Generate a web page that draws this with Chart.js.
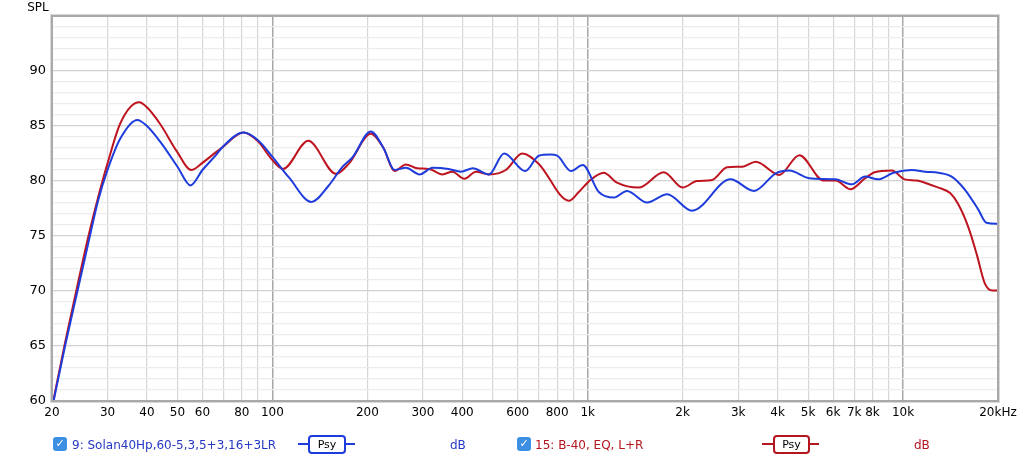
<!DOCTYPE html>
<html>
<head>
<meta charset="utf-8">
<script src="https://cdn.jsdelivr.net/npm/chart.js@4"></script>
<style>
  html, body { margin: 0; padding: 0; background: #fff; }
  #wrap { position: relative; width: 1024px; height: 461px; font-family: "DejaVu Sans", sans-serif; }
  #spl { position: absolute; left: 0; top: 0; }
  .leg { position: absolute; top: 436px; height: 18px; font-size: 12px; line-height: 18px; white-space: nowrap; }
  .chk { position: absolute; top: 437px; width: 14px; height: 14px; border-radius: 3px; background: #3d8fe6; color: #fff;
         font-size: 11px; line-height: 14px; text-align: center; font-weight: bold; }
  .psy { position: absolute; top: 435px; height: 15px; border: 2px solid; border-radius: 4px; background: #fff;
         font-size: 11px; line-height: 15px; text-align: center; color: #000; }
  .psyline { position: absolute; top: 443px; height: 2px; }
</style>
</head>
<body>
<div id="wrap">
  <canvas id="spl" width="1024" height="461"></canvas>

  <div class="chk" style="left:53px">&#10003;</div>
  <div class="leg" style="left:72px;color:#2639c4">9: Solan40Hp,60-5,3,5+3,16+3LR</div>
  <div class="psyline" style="left:298px;width:57px;background:#1e3cdc"></div>
  <div class="psy" style="left:308px;width:34px;border-color:#1e3cdc">Psy</div>
  <div class="leg" style="left:450px;color:#2639c4">dB</div>

  <div class="chk" style="left:517px">&#10003;</div>
  <div class="leg" style="left:535px;color:#b3161e">15: B-40, EQ, L+R</div>
  <div class="psyline" style="left:762px;width:57px;background:#b3161e"></div>
  <div class="psy" style="left:773px;width:33px;border-color:#b3161e">Psy</div>
  <div class="leg" style="left:914px;color:#b3161e">dB</div>
</div>
<script>
// Frequenzen (Hz) und Pegel (dB) - Messung 9 (blau)
const freqBlue = [20, 22, 24, 26, 28, 30, 33, 37.3, 40, 44, 50, 55, 60, 66.4, 69, 81, 90, 100, 113, 133, 150, 167, 180, 205, 225, 244,
  265, 293, 322, 362, 396, 432, 486, 543, 634, 700, 760, 800, 885, 964, 1084, 1210, 1332, 1542, 1786, 2142, 2836, 3368,
  3950, 4356, 5038, 6110, 6880, 7580, 8336, 9330, 10660, 11760, 12950, 14260, 15720, 17320, 18380, 20000];
const splBlue = [59.3, 65.0, 69.8, 74.2, 78.2, 81.0, 83.9, 85.55, 85.0, 83.6, 81.3, 79.6, 81.0, 82.4, 83.0, 84.4, 83.7, 82.2, 80.3, 78.1, 79.5, 81.3, 82.2, 84.5, 83.0, 81.0,
  81.2, 80.6, 81.2, 81.1, 80.85, 81.15, 80.6, 82.5, 80.9, 82.3, 82.4, 82.3, 80.9, 81.45, 79.0, 78.5, 79.1, 78.05, 78.8, 77.3, 80.15, 79.1,
  80.7, 80.95, 80.25, 80.15, 79.7, 80.4, 80.15, 80.75, 81.0, 80.85, 80.75, 80.4, 79.2, 77.4, 76.2, 76.1];

// Messung 15 (rot)
const freqRed = [20, 22, 24, 26, 28, 30, 33, 37.8, 40, 44, 50, 55.3, 60, 66.4, 69, 81, 90, 100, 108, 130, 159, 175, 205, 225, 244,
  265, 288, 314, 346, 372, 406, 442, 486, 550, 620, 697, 872, 937, 1021, 1124, 1238, 1450, 1742, 2000, 2220, 2480,
  2768, 3096, 3412, 4048, 4690, 5590, 6110, 6800, 7580, 8130, 9220, 10120, 11050, 12100, 12950, 14100, 14920, 16080,
  17100, 18160, 19200, 20000];
const splRed = [59.4, 65.3, 70.3, 74.8, 78.5, 81.6, 85.3, 87.15, 86.7, 85.2, 82.6, 81.0, 81.65, 82.65, 83.0, 84.4, 83.6, 81.9, 81.1, 83.65, 80.65, 81.6, 84.3, 83.0, 80.9,
  81.5, 81.15, 81.1, 80.6, 80.85, 80.2, 80.85, 80.6, 81.0, 82.5, 81.6, 78.2, 79.0, 80.1, 80.75, 79.85, 79.4, 80.8, 79.4, 80.0, 80.1,
  81.25, 81.3, 81.75, 80.55, 82.35, 80.05, 80.05, 79.25, 80.25, 80.8, 80.95, 80.15, 80.05, 79.7, 79.4, 78.9, 77.95, 75.85,
  73.4, 70.7, 70.05, 70.05];

// Rasterlinien und Beschriftungen der Frequenzachse
const gridFreqs = [20, 30, 40, 50, 60, 70, 80, 90, 100, 200, 300, 400, 500, 600, 700, 800, 900,
  1000, 2000, 3000, 4000, 5000, 6000, 7000, 8000, 9000, 10000, 20000];
const freqLabels = {
  20: "20", 30: "30", 40: "40", 50: "50", 60: "60", 80: "80", 100: "100", 200: "200", 300: "300", 400: "400",
  600: "600", 800: "800", 1000: "1k", 2000: "2k", 3000: "3k", 4000: "4k", 5000: "5k", 6000: "6k", 7000: "7k",
  8000: "8k", 10000: "10k", 20000: "20kHz"
};
const decades = [100, 1000, 10000];

const toPoints = (xs, ys) => xs.map((f, i) => ({ x: f, y: ys[i] }));

// Rahmen und Achsentitel
const framePlugin = {
  id: "frame",
  afterDraw(chart) {
    const { ctx, chartArea: a } = chart;
    ctx.save();
    ctx.strokeStyle = "#d8d8d8";
    ctx.lineWidth = 1;
    ctx.strokeRect(a.left - 1.5, a.top - 1.5, a.right - a.left + 3, a.bottom - a.top + 3);
    ctx.strokeStyle = "#a9a9a9";
    ctx.lineWidth = 2;
    ctx.strokeRect(a.left, a.top, a.right - a.left, a.bottom - a.top);
    ctx.fillStyle = "#000";
    ctx.font = "12px 'DejaVu Sans'";
    ctx.textAlign = "center";
    ctx.textBaseline = "middle";
    ctx.fillText("SPL", 38, 8);
    ctx.restore();
  }
};

new Chart(document.getElementById("spl").getContext("2d"), {
  type: "line",
  data: {
    datasets: [
      {
        label: "9: Solan40Hp,60-5,3,5+3,16+3LR",
        data: toPoints(freqBlue, splBlue),
        borderColor: "#1e3cdc",
        borderWidth: 2,
        pointRadius: 0,
        cubicInterpolationMode: "monotone",
      },
      {
        label: "15: B-40, EQ, L+R",
        data: toPoints(freqRed, splRed),
        borderColor: "#be1420",
        borderWidth: 2,
        pointRadius: 0,
        cubicInterpolationMode: "monotone",
      },
    ],
  },
  options: {
    responsive: false,
    animation: false,
    layout: { padding: { top: 16, right: 26, bottom: 0, left: 0 } },
    plugins: { legend: { display: false }, tooltip: { enabled: false } },
    scales: {
      x: {
        type: "logarithmic",
        min: 20,
        max: 20000,
        afterBuildTicks: (scale) => {
          scale.ticks = gridFreqs.map((v) => ({ value: v }));
        },
        afterFit: (scale) => {
          scale.height = 60;
        },
        ticks: {
          autoSkip: false,
          maxRotation: 0,
          padding: 5,
          color: "#000",
          font: { family: "DejaVu Sans", size: 12 },
          callback: (v) => freqLabels[v] || "",
        },
        grid: {
          drawTicks: false,
          color: (ctx) => (decades.includes(ctx.tick && ctx.tick.value) ? "#a8a8a8" : "#d6d6d6"),
          lineWidth: (ctx) => (decades.includes(ctx.tick && ctx.tick.value) ? 1.5 : 1.2),
        },
        border: { display: false },
      },
      y: {
        min: 60,
        max: 95,
        afterFit: (scale) => {
          scale.width = 52;
        },
        ticks: {
          stepSize: 1,
          autoSkip: false,
          padding: 6,
          color: "#000",
          font: { family: "DejaVu Sans", size: 13 },
          callback: (v) => (v % 5 === 0 && v < 95 ? String(v) : ""),
        },
        grid: {
          drawTicks: false,
          color: (ctx) => (ctx.tick && ctx.tick.value % 5 === 0 ? "#d2d2d2" : "#ececec"),
          lineWidth: 1.2,
        },
        border: { display: false },
      },
    },
  },
  plugins: [framePlugin],
});
</script>
</body>
</html>
